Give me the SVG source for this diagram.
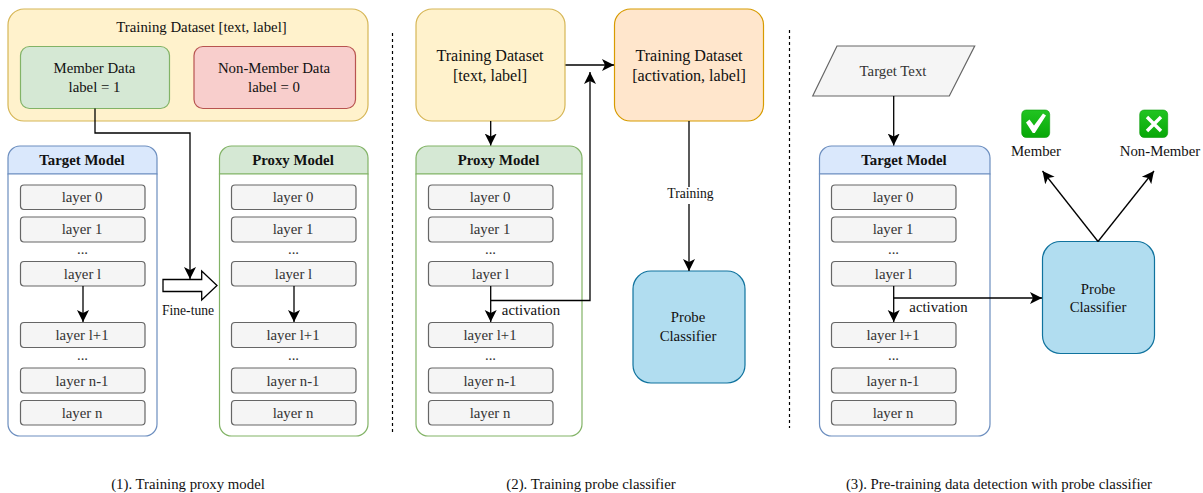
<svg xmlns="http://www.w3.org/2000/svg" width="1203" height="493" viewBox="0 0 1203 493">
<style>
text{font-family:"Liberation Serif","Times New Roman",serif;font-size:14.8px;text-anchor:middle;fill:#111}
.sm{font-size:13.6px}
.lg{font-size:16.100px}
.b{font-weight:bold}
.g{fill:#333}
.lay{fill:#f5f5f5;stroke:#666;stroke-width:1.2}
.yel{fill:#fff2cc;stroke:#d6b656;stroke-width:1.2}
.grn{fill:#d5e8d4;stroke:#82b366;stroke-width:1.2}
.red{fill:#f8cecc;stroke:#b85450;stroke-width:1.2}
.blu{fill:#dae8fc;stroke:#6c8ebf;stroke-width:1.2}
.org{fill:#ffe6cc;stroke:#d79b00;stroke-width:1.2}
.prb{fill:#b1ddf0;stroke:#10739e;stroke-width:1.2}
.c{fill:none;stroke:#000;stroke-width:1.3;marker-end:url(#a)}
.n{fill:none;stroke:#000;stroke-width:1.3}
.d{fill:none;stroke:#000;stroke-width:1.2;stroke-dasharray:3 3}
.ico{fill:url(#em);stroke:#0a9a0a;stroke-width:0.6}
</style>
<defs>
<linearGradient id="em" x1="0" y1="0" x2="0" y2="1">
<stop offset="0" stop-color="#22c422"/>
<stop offset="1" stop-color="#07a807"/>
</linearGradient>
<marker id="a" markerUnits="userSpaceOnUse" markerWidth="14" markerHeight="14" refX="12" refY="6.5" orient="auto" viewBox="0 0 14 13">
<path d="M0 0.5L12 6.5L0 12.5L3 6.5Z" fill="#000"/>
</marker>
<g id="layers">
<rect class="lay" x="0" y="185" width="124.5" height="24.5" rx="3.5"/>
<rect class="lay" x="0" y="217" width="124.5" height="25" rx="3.5"/>
<rect class="lay" x="0" y="261.5" width="124.5" height="24.5" rx="3.5"/>
<rect class="lay" x="0" y="322.5" width="124.5" height="25" rx="3.5"/>
<rect class="lay" x="0" y="368" width="124.5" height="25" rx="3.5"/>
<rect class="lay" x="0" y="400.5" width="124.5" height="24.5" rx="3.5"/>
<g class="g">
<text class="g" x="61.5" y="202">layer 0</text>
<text class="g" x="61.5" y="234">layer 1</text>
<text class="g" x="62" y="254">...</text>
<text class="g" x="62" y="279">layer l</text>
<text class="g" x="61.5" y="340">layer l+1</text>
<text class="g" x="62" y="360">...</text>
<text class="g" x="61.5" y="386">layer n-1</text>
<text class="g" x="61.5" y="418">layer n</text>
</g>
</g>
</defs>

<g id="dataset-1">
<rect class="yel" x="8" y="9" width="360" height="112" rx="16"/>
<text x="201.500" y="32">Training Dataset [text, label]</text>
</g>
<g id="member-data">
<rect class="grn" x="20.500" y="46.500" width="149" height="62" rx="9"/>
<text x="94.500" y="73">Member Data</text>
<text x="94.500" y="92">label = 1</text>
</g>
<g id="non-member-data">
<rect class="red" x="194" y="46.500" width="161.500" height="62" rx="9"/>
<text x="274" y="73">Non-Member Data</text>
<text x="274" y="92">label = 0</text>
</g>
<g id="target-model-1">
<path d="M8 174V158a12 12 0 0 1 12-12H145a12 12 0 0 1 12 12V174Z" class="blu"/>
<path d="M8 174H157V424a12 12 0 0 1-12 12H20a12 12 0 0 1-12-12Z" fill="#fff" stroke="#6c8ebf" stroke-width="1.2"/>
<text class="b" x="82" y="165">Target Model</text>
<use href="#layers" x="20.500"/>
</g>
<g id="proxy-model-1">
<path d="M219.500 174V158a12 12 0 0 1 12-12H356a12 12 0 0 1 12 12V174Z" class="grn"/>
<path d="M219.500 174H368V424a12 12 0 0 1-12 12H231.500a12 12 0 0 1-12-12Z" fill="#fff" stroke="#82b366" stroke-width="1.2"/>
<text class="b" x="293" y="165">Proxy Model</text>
<use href="#layers" x="231.500"/>
</g>
<g id="fine-tune">
<path d="M163 279.500H201.700V271L217 285.500L201.700 300V291.500H163Z" fill="#fff" stroke="#000" stroke-width="1.3"/>
<text class="sm" x="188" y="315">Fine-tune</text>
</g>

<g id="dataset-2">
<rect class="yel" x="416" y="9" width="149" height="112" rx="16"/>
<text class="lg" x="490" y="61">Training Dataset</text>
<text class="lg" x="490" y="81">[text, label]</text>
</g>
<g id="dataset-activation">
<rect class="org" x="614.500" y="9" width="149" height="112" rx="16"/>
<text class="lg" x="689" y="61">Training Dataset</text>
<text class="lg" x="689" y="81">[activation, label]</text>
</g>
<g id="proxy-model-2">
<path d="M416 174V158a12 12 0 0 1 12-12H570a12 12 0 0 1 12 12V174Z" class="grn"/>
<path d="M416 174H582V424a12 12 0 0 1-12 12H428a12 12 0 0 1-12-12Z" fill="#fff" stroke="#82b366" stroke-width="1.2"/>
<text class="b" x="498.500" y="165">Proxy Model</text>
<use href="#layers" x="428.500"/>
</g>
<g id="probe-2">
<rect class="prb" x="633" y="271" width="112" height="112" rx="18"/>
<text x="688" y="322">Probe</text>
<text x="688" y="341">Classifier</text>
</g>

<g id="target-text">
<path d="M812.700 96L837 46H974.700L949.300 96Z" fill="#f5f5f5" stroke="#666" stroke-width="1.2"/>
<text class="g" x="893" y="76">Target Text</text>
</g>
<g id="target-model-3">
<path d="M819.500 174V158a12 12 0 0 1 12-12H978a12 12 0 0 1 12 12V174Z" class="blu"/>
<path d="M819.500 174H990V424a12 12 0 0 1-12 12H831.500a12 12 0 0 1-12-12Z" fill="#fff" stroke="#6c8ebf" stroke-width="1.2"/>
<text class="b" x="904" y="165">Target Model</text>
<use href="#layers" x="831.500"/>
</g>
<g id="probe-3">
<rect class="prb" x="1042.500" y="241.500" width="112" height="112" rx="18"/>
<text x="1098" y="294">Probe</text>
<text x="1098" y="312">Classifier</text>
</g>
<g id="member">
<rect class="ico" x="1021.700" y="110" width="28" height="27.500" rx="4.500"/>
<path d="M1026 122.500L1029.500 119.500L1034 125.500L1043 113.500L1046 115.500L1034.800 133H1032.800Z" fill="#fff"/>
<text x="1036" y="156">Member</text>
</g>
<g id="non-member">
<rect class="ico" x="1139.700" y="110" width="28" height="27.500" rx="4.500"/>
<path d="M1147 117L1161 131M1161 117L1147 131" fill="none" stroke="#fff" stroke-width="3.400"/>
<text x="1160" y="156">Non-Member</text>
</g>

<g id="connectors">
<path class="c" d="M95 108.500V133H190V279"/>
<path class="c" d="M83 286V322"/>
<path class="c" d="M294 286V322"/>
<path class="c" d="M490.700 121V145.500"/>
<path class="c" d="M565.500 65H614"/>
<path class="c" d="M490.700 286V322"/>
<path class="c" d="M490.700 300.500H590V72"/>
<path class="n" d="M689 121V187"/>
<path class="c" d="M689 204V271"/>
<path class="c" d="M893.700 96V145.500"/>
<path class="c" d="M893.700 286V322"/>
<path class="c" d="M893.700 298H1042"/>
<path class="c" d="M1098 241.500L1042.500 171"/>
<path class="c" d="M1098 241.500L1154 171"/>
<path class="d" d="M392.500 33V432"/>
<path class="d" d="M789.500 30V428"/>
<text class="sm" x="690.500" y="198">Training</text>
<text x="531" y="315">activation</text>
<text x="938.500" y="312">activation</text>
</g>

<g id="captions">
<text x="188" y="489">(1). Training proxy model</text>
<text x="591" y="489">(2). Training probe classifier</text>
<text x="999" y="489">(3). Pre-training data detection with probe classifier</text>
</g>
</svg>
